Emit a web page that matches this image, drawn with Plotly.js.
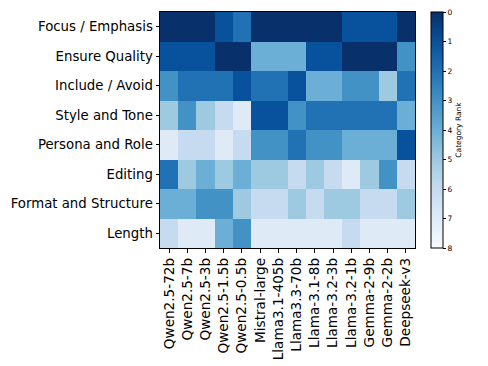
<!DOCTYPE html>
<html>
<head>
<meta charset="utf-8">
<script src="https://cdn.plot.ly/plotly-3.0.1.min.js"></script>
<style>
  body { margin: 0; background: #fff; }
  #heat { width: 488px; height: 366px; }
</style>
</head>
<body>
<div id="heat"></div>
<script>
// models on x, instruction categories on y
var models = ["Qwen2.5-72b", "Qwen2.5-7b", "Qwen2.5-3b", "Qwen2.5-1.5b", "Qwen2.5-0.5b",
  "Mistral-large", "Llama3.1-405b", "Llama3.3-70b", "Llama-3.1-8b", "Llama-3.2-3b",
  "Llama-3.2-1b", "Gemma-2-9b", "Gemma-2-2b", "Deepseek-v3"];

var categories = ["Focus / Emphasis", "Ensure Quality", "Include / Avoid", "Style and Tone",
  "Persona and Role", "Editing", "Format and Structure", "Length"];

// category rank per model (0 = top)
var focusRank   = [0, 0, 0, 1, 2, 0, 0, 0, 0, 0, 1, 1, 1, 0];
var qualityRank = [1, 1, 1, 0, 0, 4, 4, 4, 1, 1, 0, 0, 0, 3];
var includeRank = [3, 2, 2, 2, 1, 2, 2, 1, 4, 4, 3, 3, 5, 2];
var styleRank   = [5, 3, 5, 6, 7, 1, 1, 3, 2, 2, 2, 2, 2, 4];
var personaRank = [7, 6, 6, 7, 6, 3, 3, 2, 3, 3, 4, 4, 4, 1];
var editingRank = [2, 5, 4, 5, 4, 5, 5, 6, 5, 6, 7, 5, 3, 6];
var formatRank  = [4, 4, 3, 3, 5, 6, 6, 5, 6, 5, 5, 6, 6, 5];
var lengthRank  = [6, 7, 7, 4, 3, 7, 7, 7, 7, 7, 6, 7, 7, 7];

var ranks = [focusRank, qualityRank, includeRank, styleRank,
  personaRank, editingRank, formatRank, lengthRank];

var maxRank = 8;
var rankTicks = [0, 1, 2, 3, 4, 5, 6, 7, 8];

// colorbar runs 0 at top, so flip the values and relabel the ticks
var z = ranks.map(function (row) {
  return row.map(function (r) { return maxRank - r; });
});

var blues = [
  [0.0, "#f7fbff"], [0.125, "#deebf7"], [0.25, "#c6dbef"], [0.375, "#9ecae1"],
  [0.5, "#6baed6"], [0.625, "#4292c6"], [0.75, "#2171b5"], [0.875, "#08519c"],
  [1.0, "#08306b"]
];

var trace = {
  type: "heatmap",
  x: models,
  y: categories,
  z: z,
  zmin: 0,
  zmax: maxRank,
  colorscale: blues,
  colorbar: {
    x: 1.063,
    xanchor: "left",
    xpad: 0,
    y: 0.5,
    yanchor: "middle",
    len: 1,
    lenmode: "fraction",
    ypad: 0,
    thickness: 12,
    outlinewidth: 1,
    outlinecolor: "#000",
    ticks: "outside",
    ticklen: 3,
    tickwidth: 1,
    tickcolor: "#000",
    tickvals: rankTicks.map(function (t) { return maxRank - t; }),
    ticktext: rankTicks.map(String),
    tickfont: { family: "DejaVu Sans", size: 7.5, color: "#000" },
    title: {
      text: "Category Rank",
      side: "right",
      font: { family: "DejaVu Sans", size: 7.5, color: "#000" }
    }
  }
};

var layout = {
  width: 488,
  height: 366,
  margin: { l: 160, r: 73, t: 12, b: 118 },
  paper_bgcolor: "#fff",
  plot_bgcolor: "#fff",
  font: { family: "DejaVu Sans", color: "#000" },
  xaxis: {
    type: "category",
    tickangle: -90,
    ticks: "outside",
    ticklen: 3.5,
    tickcolor: "#000",
    tickfont: { family: "DejaVu Sans", size: 13.6, color: "#000" },
    showline: true,
    linecolor: "#000",
    linewidth: 1,
    mirror: true,
    showgrid: false,
    zeroline: false
  },
  yaxis: {
    type: "category",
    autorange: "reversed",
    ticks: "outside",
    ticklen: 3.5,
    tickcolor: "#000",
    tickfont: { family: "DejaVu Sans", size: 13.3, color: "#000" },
    showline: true,
    linecolor: "#000",
    linewidth: 1,
    mirror: true,
    showgrid: false,
    zeroline: false
  }
};

Plotly.newPlot("heat", [trace], layout, { displayModeBar: false, staticPlot: true });
</script>
</body>
</html>
